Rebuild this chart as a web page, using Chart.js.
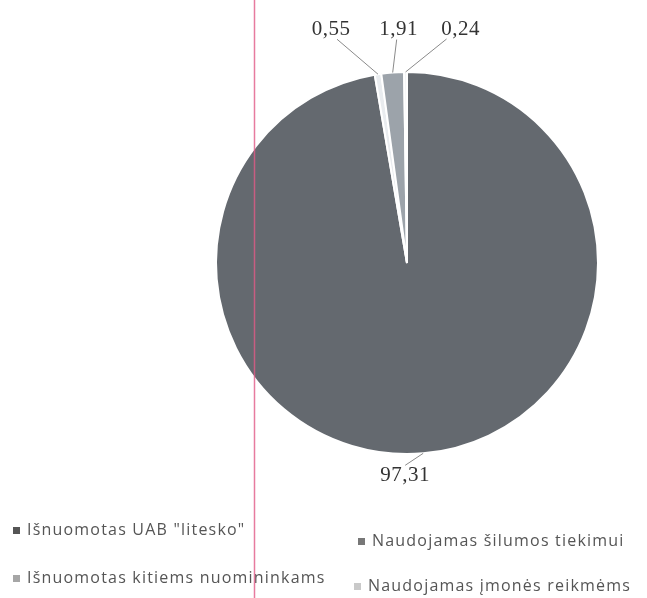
<!DOCTYPE html>
<html>
<head>
<meta charset="utf-8">
<script src="https://cdn.jsdelivr.net/npm/chart.js@4.4.1/dist/chart.umd.min.js"></script>
<style>
  html, body { margin: 0; padding: 0; background: #fff; }
  #wrap { width: 647px; height: 598px; position: relative; }
</style>
</head>
<body>
<div id="wrap"><canvas id="pie" width="647" height="598"></canvas></div>
<script>
// categories and shares, %
const categories = [
  'Išnuomotas UAB "litesko"',
  "Išnuomotas kitiems nuomininkams",
  "Naudojamas šilumos tiekimui",
  "Naudojamas įmonės reikmėms",
];
const shares = [97.31, 0.55, 1.91, 0.24];
const shareLabels = ["97,31", "0,55", "1,91", "0,24"];

const sliceColors = ["#64696f", "#e9ecef", "#9ca3aa", "#f1f3f5"];
const legendColors = ["#555", "#a6a6a6", "#777", "#c9c9c9"];

// leader-line labels, drawn next to each slice's outer edge
const sliceLabels = {
  id: "sliceLabels",
  afterDatasetsDraw(chart, args, opts) {
    const ctx = chart.ctx;
    const arcs = chart.getDatasetMeta(0).data;
    ctx.save();
    ctx.font = "21px 'Liberation Serif'";
    ctx.letterSpacing = "0.5px";
    ctx.fillStyle = "#333";
    ctx.textAlign = "center";
    ctx.textBaseline = "middle";
    arcs.forEach((arc, i) => {
      const p = arc.getProps(["x", "y", "startAngle", "endAngle", "outerRadius"], true);
      const mid = (p.startAngle + p.endAngle) / 2;
      const ax = p.x + Math.cos(mid) * p.outerRadius;
      const ay = p.y + Math.sin(mid) * p.outerRadius;
      const [dx, dy, lx, ly] = opts.offsets[i];
      const tx = ax + dx, ty = ay + dy;
      ctx.strokeStyle = "#8a8a8a";
      ctx.lineWidth = 1;
      ctx.beginPath();
      ctx.moveTo(ax, ay);
      ctx.lineTo(tx + lx, ty + ly);
      ctx.stroke();
      ctx.fillText(shareLabels[i], tx, ty);
    });
    ctx.restore();
  },
};

// two-column legend under the pie
const gridLegend = {
  id: "gridLegend",
  afterDraw(chart, args, opts) {
    const ctx = chart.ctx;
    ctx.save();
    ctx.font = "16px 'Open Sans'";
    ctx.letterSpacing = "1.2px";
    ctx.textBaseline = "middle";
    categories.forEach((c, i) => {
      const [x, y] = opts.slots[i];
      ctx.fillStyle = legendColors[i];
      ctx.fillRect(x, y - 3, 7, 7);
      ctx.fillStyle = "#555";
      ctx.fillText(c, x + 14, y);
    });
    // pink scan line
    ctx.strokeStyle = "rgba(225,90,135,0.8)";
    ctx.lineWidth = 1.5;
    ctx.beginPath();
    ctx.moveTo(254.5, 0);
    ctx.lineTo(254.5, 598);
    ctx.stroke();
    ctx.restore();
  },
};

new Chart(document.getElementById("pie"), {
  type: "pie",
  data: {
    labels: categories,
    datasets: [{
      data: shares,
      backgroundColor: sliceColors,
      borderColor: "#fff",
      borderWidth: 2,
    }],
  },
  options: {
    responsive: false,
    animation: false,
    layout: { padding: { left: 215, right: 48, top: 71, bottom: 143 } },
    plugins: {
      legend: { display: false },
      tooltip: { enabled: false },
      sliceLabels: {
        offsets: [[-18, 22, 0, -10], [-47, -45, 6, 10], [6, -43, -2, 10], [55, -43, -14, 10]],
      },
      gridLegend: {
        slots: [[13, 530], [13, 578], [358, 541], [354, 586]],
      },
    },
  },
  plugins: [sliceLabels, gridLegend],
});
</script>
</body>
</html>
